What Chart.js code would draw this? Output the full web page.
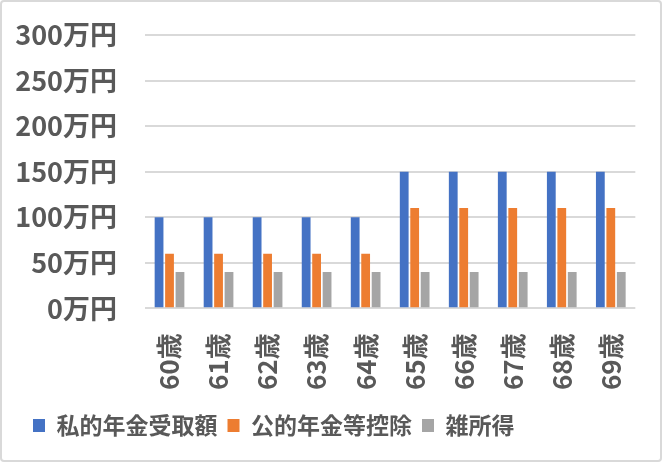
<!DOCTYPE html>
<html>
<head>
<meta charset="utf-8">
<script src="https://cdn.jsdelivr.net/npm/chart.js@4"></script>
<style>
  body { margin: 0; background: #fff; }
  .chart-container {
    width: 662px; height: 462px; box-sizing: border-box;
    border: 2px solid #d9d9d9; border-radius: 4px; position: relative;
  }
</style>
</head>
<body>
<div class="chart-container"><canvas id="myChart"></canvas></div>
<script>
const labels = ['60歳', '61歳', '62歳', '63歳', '64歳', '65歳', '66歳', '67歳', '68歳', '69歳'];
const privatePension = [100, 100, 100, 100, 100, 150, 150, 150, 150, 150];
const publicDeduction = [60, 60, 60, 60, 60, 110, 110, 110, 110, 110];
const miscIncome = [40, 40, 40, 40, 40, 40, 40, 40, 40, 40];
const seriesNames = ['私的年金受取額', '公的年金等控除', '雑所得'];

const fontFamily = '"Noto Sans CJK JP", "Noto Sans", sans-serif';
const textColor = '#595959';

// nudge the legend a bit to the right, like the original
const legendShift = {
    id: 'legendShift',
    afterLayout(chart) {
        chart.legend.left += 16;
        chart.legend.right += 16;
    }
};

const ctx = document.getElementById('myChart').getContext('2d');
const myChart = new Chart(ctx, {
    type: 'bar',
    data: {
        labels: labels,
        datasets: [
            { label: seriesNames[0], data: privatePension, backgroundColor: '#4472c4' },
            { label: seriesNames[1], data: publicDeduction, backgroundColor: '#ed7d31' },
            { label: seriesNames[2], data: miscIncome, backgroundColor: '#a5a5a5' }
        ]
    },
    options: {
        responsive: true,
        maintainAspectRatio: false,
        animation: false,
        layout: { padding: { top: 33, right: 20, left: 5, bottom: 13 } },
        datasets: {
            bar: { categoryPercentage: 0.64, barPercentage: 0.84 }
        },
        scales: {
            x: {
                grid: { display: false },
                border: { display: false },
                ticks: {
                    color: textColor,
                    font: { family: fontFamily, size: 26, weight: 'bold' },
                    minRotation: 90,
                    maxRotation: 90,
                    padding: 17
                },
                afterFit: function(scale) { scale.height -= 3; }
            },
            y: {
                min: 0,
                max: 300,
                grid: { color: '#d9d9d9', lineWidth: 2, drawTicks: true, tickLength: 28, tickColor: 'rgba(0,0,0,0)' },
                border: { display: false },
                ticks: {
                    stepSize: 50,
                    color: textColor,
                    padding: 0,
                    font: { family: fontFamily, size: 27, weight: 'bold' },
                    callback: function(v) { return v + '万円'; }
                },
                afterFit: function(scale) { scale.width = 138; }
            }
        },
        plugins: {
            legend: {
                position: 'bottom',
                align: 'start',
                labels: {
                    color: textColor,
                    font: { family: fontFamily, size: 23, weight: 'bold' },
                    boxWidth: 12,
                    boxHeight: 13,
                    padding: 10
                }
            },
            tooltip: { enabled: false }
        }
    },
    plugins: [legendShift]
});
</script>
</body>
</html>
